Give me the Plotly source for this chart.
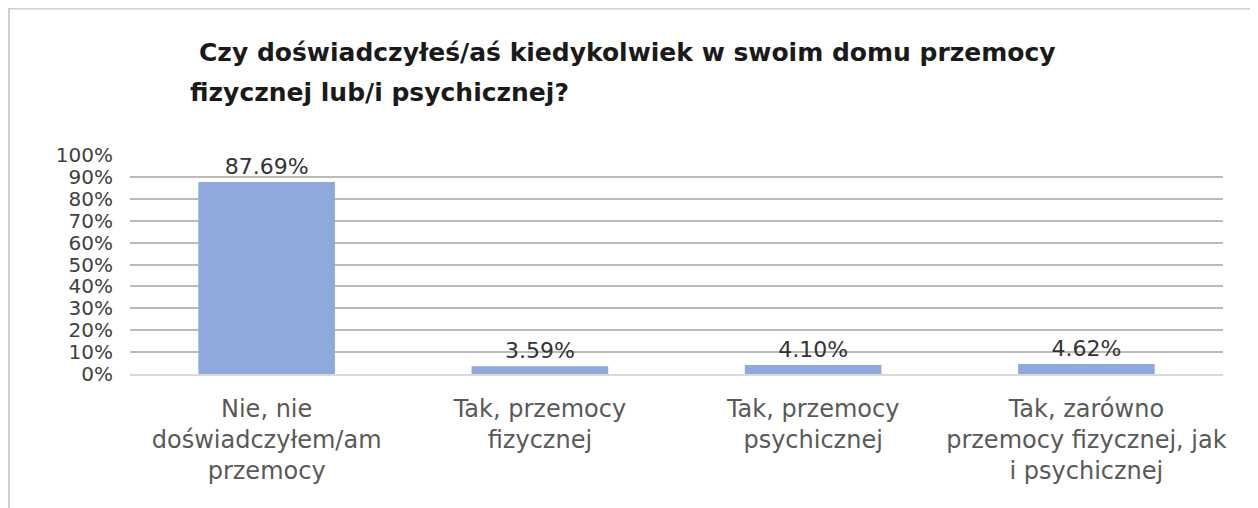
import plotly.graph_objects as go

categories = [
    "Nie, nie<br>doświadczyłem/am<br>przemocy",
    "Tak, przemocy<br>fizycznej",
    "Tak, przemocy<br>psychicznej",
    "Tak, zarówno<br>przemocy fizycznej, jak<br>i psychicznej",
]
values = [0.8769, 0.0359, 0.0410, 0.0462]
value_labels = ["87.69%", "3.59%", "4.10%", "4.62%"]
title_lines = [
    "Czy doświadczyłeś/aś kiedykolwiek w swoim domu przemocy",
    "fizycznej lub/i psychicznej?",
]

# figure is placed by the page with an 8px body margin
W, H = 1250, 500
L, R, T, B = 122, 35, 147, 134
pw, ph = W - L - R, H - T - B

def px_x(px):
    return (px - L) / pw

def px_y(py):
    return (H - B - py) / ph

FONT = "DejaVu Sans"

fig = go.Figure(
    go.Bar(
        x=categories,
        y=values,
        width=0.5,
        marker=dict(color="#8EA9DB", line=dict(width=0)),
        text=value_labels,
        textposition="outside",
        textfont=dict(family=FONT, size=22, color="#333333"),
        cliponaxis=False,
    )
)

fig.update_layout(
    width=W,
    height=H,
    margin=dict(l=L, r=R, t=T, b=B, autoexpand=False),
    paper_bgcolor="white",
    plot_bgcolor="white",
    showlegend=False,
    font=dict(family=FONT, size=24, color="#595959"),
)

fig.update_yaxes(
    range=[0, 1],
    dtick=0.1,
    tickformat=".0%",
    showgrid=True,
    gridcolor="#BBBBBB",
    gridwidth=2,
    zeroline=False,
    showline=False,
    ticks="",
    ticklabelstandoff=16,
    tickfont=dict(family=FONT, size=20, color="#404040"),
)
fig.update_xaxes(
    showgrid=False,
    showline=True,
    linecolor="#D9D9D9",
    linewidth=2,
    ticks="",
    ticklabelstandoff=12,
    tickfont=dict(family=FONT, size=24, color="#595959"),
)

title_pos = [(189, 44), (180, 84)]
for line, (tx, ty) in zip(title_lines, title_pos):
    fig.add_annotation(
        text=line,
        xref="paper", yref="paper",
        x=px_x(tx), y=px_y(ty),
        xanchor="left", yanchor="middle",
        align="left",
        showarrow=False,
        font=dict(family=FONT, size=25, color="#1a1a1a", weight="bold"),
    )

# chart frame (top and left edges)
fig.add_shape(type="line", xref="paper", yref="paper",
              x0=px_x(0), x1=px_x(W), y0=px_y(0.5), y1=px_y(0.5),
              line=dict(color="#D0D0D0", width=2))
fig.add_shape(type="line", xref="paper", yref="paper",
              x0=px_x(1), x1=px_x(1), y0=px_y(0), y1=px_y(H),
              line=dict(color="#D0D0D0", width=2))

fig.write_html("out.html")
